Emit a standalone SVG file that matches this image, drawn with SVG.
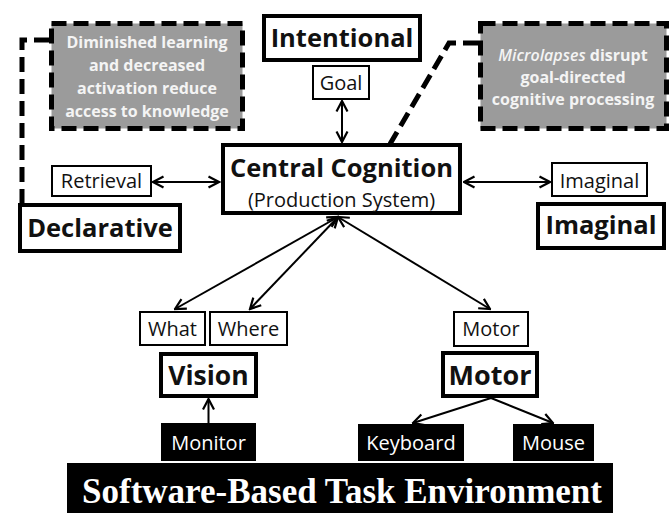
<svg xmlns="http://www.w3.org/2000/svg" width="672" height="513" viewBox="0 0 672 513">
  <defs>
    <marker id="arrow" viewBox="0 0 14 14" refX="12.5" refY="7" markerWidth="14" markerHeight="14" markerUnits="userSpaceOnUse" orient="auto-start-reverse">
      <path d="M2,1.5 L12.5,7 L2,12.5" fill="none" stroke="#000" stroke-width="2.2" stroke-linejoin="miter"/>
    </marker>
    <style>
      .module { fill: #fff; stroke: #000; stroke-width: 4; }
      .buffer { fill: #fff; stroke: #000; stroke-width: 2; }
      .device { fill: #000; stroke: none; }
      .note { fill: #9b9b9b; stroke: #000; stroke-width: 5; stroke-dasharray: 15 7; }
      .title { font-family: "Open Sans", "Noto Sans", sans-serif; font-weight: bold; font-size: 25.5px; fill: #111; text-anchor: middle; }
      .label { font-family: "Open Sans", "Noto Sans", sans-serif; font-size: 20px; fill: #111; text-anchor: middle; }
      .white { fill: #fff; }
      .notetext { font-family: "Open Sans", "Noto Sans", sans-serif; font-weight: bold; font-size: 16px; fill: #f4f4f4; text-anchor: middle; }
      .env { font-family: "Liberation Serif", "Times New Roman", serif; font-weight: bold; font-size: 35px; fill: #fff; text-anchor: middle; }
      .link { stroke: #000; stroke-width: 2; fill: none; marker-end: url(#arrow); }
      .both { marker-start: url(#arrow); }
      .influence { stroke: #000; stroke-width: 5; fill: none; stroke-dasharray: 15 7; }
    </style>
  </defs>

  <!-- connectors -->
  <g id="connectors">
    <line class="link both" x1="342" y1="101" x2="342" y2="142"/>
    <line class="link both" x1="153" y1="182" x2="219" y2="182"/>
    <line class="link both" x1="464" y1="182" x2="550" y2="182"/>
    <line class="link both" x1="338" y1="217" x2="175" y2="309"/>
    <line class="link both" x1="338" y1="217" x2="250" y2="309"/>
    <line class="link both" x1="338" y1="217" x2="490" y2="309"/>
    <line class="link" x1="208.5" y1="423" x2="208.5" y2="399"/>
    <line class="link" x1="491" y1="398" x2="413" y2="423"/>
    <line class="link" x1="491" y1="398" x2="553" y2="423"/>
    <polyline class="influence" points="49,40 22,40 22,203"/>
    <polyline class="influence" points="478,43 449,43 390,144"/>
  </g>

  <!-- cognitive modules and buffers -->
  <g id="intentional">
    <rect class="module" x="264" y="16" width="156" height="44"/>
    <text class="title" x="342" y="47">Intentional</text>
  </g>
  <g id="goal">
    <rect class="buffer" x="313" y="66" width="56" height="33"/>
    <text class="label" x="341" y="90">Goal</text>
  </g>
  <g id="central">
    <rect class="module" x="223" y="145" width="237" height="68"/>
    <text class="title" x="341.5" y="177">Central Cognition</text>
    <text class="label" x="341.5" y="207">(Production System)</text>
  </g>
  <g id="retrieval">
    <rect class="buffer" x="52" y="166" width="99" height="30"/>
    <text class="label" x="101.5" y="188">Retrieval</text>
  </g>
  <g id="declarative">
    <rect class="module" x="20" y="205" width="160" height="46"/>
    <text class="title" x="100" y="237">Declarative</text>
  </g>
  <g id="imaginal-buffer">
    <rect class="buffer" x="552" y="163" width="95" height="33"/>
    <text class="label" x="599.5" y="188">Imaginal</text>
  </g>
  <g id="imaginal">
    <rect class="module" x="538" y="204" width="126" height="44"/>
    <text class="title" x="601" y="234">Imaginal</text>
  </g>
  <g id="what">
    <rect class="buffer" x="140" y="312" width="65" height="33"/>
    <text class="label" x="172.5" y="336">What</text>
  </g>
  <g id="where">
    <rect class="buffer" x="210" y="312" width="77" height="33"/>
    <text class="label" x="248.5" y="336">Where</text>
  </g>
  <g id="vision">
    <rect class="module" x="161" y="354" width="95" height="42"/>
    <text class="title" x="208.5" y="385" style="font-size:26.5px">Vision</text>
  </g>
  <g id="motor-buffer">
    <rect class="buffer" x="454" y="312" width="74" height="34"/>
    <text class="label" x="491" y="336">Motor</text>
  </g>
  <g id="motor">
    <rect class="module" x="443" y="353" width="94" height="43"/>
    <text class="title" x="490" y="385" style="font-size:27px">Motor</text>
  </g>

  <!-- task environment devices -->
  <g id="monitor">
    <rect class="device" x="161" y="423" width="95" height="38"/>
    <text class="label white" x="208.5" y="450">Monitor</text>
  </g>
  <g id="keyboard">
    <rect class="device" x="358" y="424" width="106" height="37"/>
    <text class="label white" x="411" y="450">Keyboard</text>
  </g>
  <g id="mouse">
    <rect class="device" x="513" y="424" width="81" height="37"/>
    <text class="label white" x="553.5" y="450">Mouse</text>
  </g>
  <g id="environment">
    <rect class="device" x="67" y="463" width="546" height="52"/>
    <text class="env" x="342" y="503">Software-Based Task Environment</text>
  </g>

  <!-- annotation notes -->
  <g id="note-declarative">
    <rect class="note" x="51.5" y="23.5" width="191" height="105"/>
    <text class="notetext" x="147" y="48">Diminished learning</text>
    <text class="notetext" x="147" y="71">and decreased</text>
    <text class="notetext" x="147" y="94">activation reduce</text>
    <text class="notetext" x="147" y="117">access to knowledge</text>
  </g>
  <g id="note-central">
    <rect class="note" x="480.5" y="23.5" width="186" height="105"/>
    <text class="notetext" x="573" y="61"><tspan font-style="italic" font-weight="600">Microlapses</tspan> disrupt</text>
    <text class="notetext" x="573" y="83">goal-directed</text>
    <text class="notetext" x="573" y="105">cognitive processing</text>
  </g>
</svg>
